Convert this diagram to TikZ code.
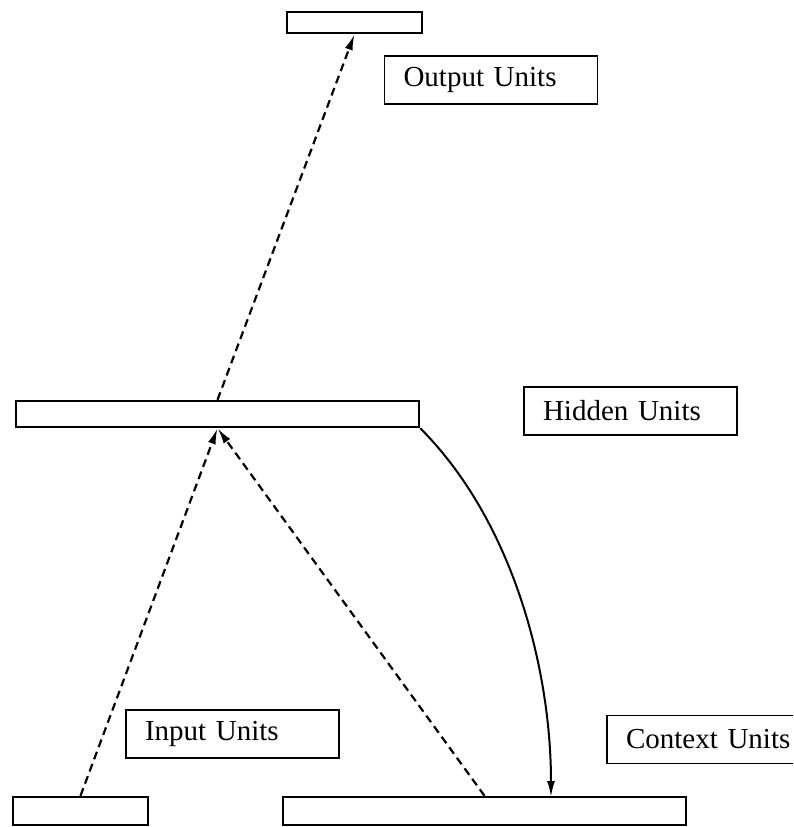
\documentclass[tikz,border=0pt]{standalone}
\usepackage{fontspec}
\setmainfont{Liberation Serif}
\usetikzlibrary{arrows.meta}
\begin{document}
\begin{tikzpicture}[x=1pt,y=1pt,
  bar/.style={draw,line width=2.4pt,inner sep=0pt,fill=white},
  lbl/.style={draw,line width=1.2pt,inner xsep=19pt,inner ysep=0pt,text width=175pt,align=left,minimum height=48pt,font=\fontsize{29}{33}\selectfont,anchor=center},
  dsh/.style={line width=2.2pt,dash pattern=on 8pt off 5pt,-{Latex[length=16pt,width=8pt]}},
  sol/.style={line width=2pt,-{Latex[length=16pt,width=8pt]}}]
\useasboundingbox (0,0) rectangle (793,-827);
\clip (0,0) rectangle (793,-827);
\node[bar,minimum width=135pt,minimum height=21pt] (out) at (354.5,-22.5) {};
\node[bar,minimum width=403pt,minimum height=26pt] (hid) at (217.5,-414) {};
\node[bar,minimum width=135pt,minimum height=28pt] (inp) at (80.5,-811) {};
\node[bar,minimum width=403pt,minimum height=28pt] (ctx) at (484.5,-811) {};
\node[lbl] (lout) at (491,-80) {Output Units};
\node[lbl] (lhid) at (630.5,-411) {Hidden Units};
\node[lbl] (linp) at (232.5,-734) {Input Units};
\node[lbl] (lctx) at (713.5,-739.5) {Context Units};
\coordinate (ctxin) at (551,-797);
\draw[dsh] (hid.north) -- (out.south);
\draw[dsh] (inp.north) -- (hid.south);
\draw[dsh] (ctx.north) -- (hid.south);
\draw[sol] (hid.south east) to[out=-45,in=90,looseness=0.85] (ctxin);
\end{tikzpicture}
\end{document}
